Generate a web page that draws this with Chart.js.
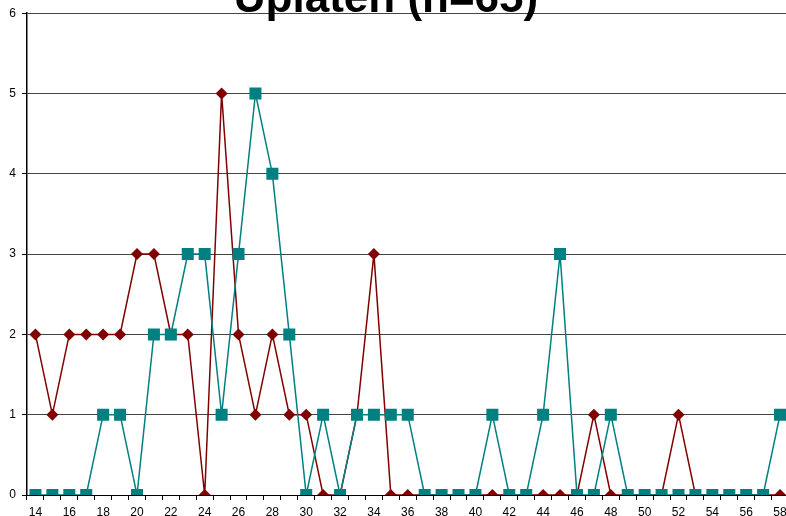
<!DOCTYPE html>
<html>
<head>
<meta charset="utf-8">
<script src="https://cdn.jsdelivr.net/npm/chart.js@4"></script>
<style>
  html, body { margin: 0; padding: 0; background: #fff; overflow: hidden; }
  #wrap { position: absolute; left: 0; top: 0; width: 797px; height: 530px; }
</style>
</head>
<body>
<div id="wrap"><canvas id="chart"></canvas></div>
<script>
const ages = [];
for (let a = 14; a <= 58; a++) ages.push(String(a));

const seriesRed = [2, 1, 2, 2, 2, 2, 3, 3, 2, 2, 0, 5, 2, 1, 2, 1, 1, 0, 0, 1, 3, 0,
                   0, 0, 0, 0, 0, 0, 0, 0, 0, 0, 0, 1, 0, 0, 0, 0, 1, 0, 0, 0, 0, 0, 0];
const seriesTeal = [0, 0, 0, 0, 1, 1, 0, 2, 2, 3, 3, 1, 3, 5, 4, 2, 0, 1, 0, 1, 1, 1,
                    1, 0, 0, 0, 0, 1, 0, 0, 1, 3, 0, 0, 1, 0, 0, 0, 0, 0, 0, 0, 0, 0, 1];
const titleText = 'Uplaten (n=65)';

// title sits partly above the canvas, so draw it by hand
const titlePlugin = {
  id: 'topTitle',
  afterDraw(chart) {
    const ctx = chart.ctx;
    ctx.save();
    ctx.font = 'bold 44px "Liberation Sans", Arial, sans-serif';
    ctx.fillStyle = '#000';
    ctx.textAlign = 'center';
    ctx.textBaseline = 'alphabetic';
    ctx.fillText(titleText, 386, 12);
    ctx.restore();
  }
};

Chart.defaults.font.family = '"Liberation Sans", Arial, sans-serif';
Chart.defaults.font.size = 11;
Chart.defaults.color = '#000';

new Chart(document.getElementById('chart'), {
  type: 'line',
  data: {
    labels: ages,
    datasets: [
      {
        label: 'reeks 1',
        data: seriesRed,
        borderColor: '#800000',
        backgroundColor: '#800000',
        borderWidth: 1.5,
        pointStyle: 'rectRot',
        pointRadius: 6,
        pointBorderWidth: 0,
        tension: 0,
        order: 2
      },
      {
        label: 'reeks 2',
        data: seriesTeal,
        borderColor: '#008080',
        backgroundColor: '#008080',
        borderWidth: 1.5,
        pointStyle: 'rect',
        pointRadius: 8.5,
        pointBorderWidth: 0,
        tension: 0,
        order: 1
      }
    ]
  },
  options: {
    responsive: true,
    maintainAspectRatio: false,
    animation: false,
    layout: { padding: { top: 12, left: 0, right: 0, bottom: 0 } },
    plugins: {
      legend: { display: false },
      title: { display: false },
      tooltip: { enabled: false }
    },
    scales: {
      x: {
        offset: true,
        grid: { display: true, drawOnChartArea: false, offset: true, tickLength: 5, tickColor: '#000' },
        border: { color: '#000', width: 1 },
        ticks: {
          autoSkip: false,
          maxRotation: 0,
          padding: 5,
          font: { size: 12 },
          callback: function (v, i) { return i % 2 === 0 ? this.getLabelForValue(v) : ''; }
        },
        afterFit(scale) { scale.height = 35; }
      },
      y: {
        min: 0,
        max: 6,
        ticks: { stepSize: 1, padding: 6, font: { size: 12 } },
        grid: { color: '#444', lineWidth: 1, tickLength: 5, tickColor: '#000' },
        border: { color: '#000', width: 1.5 },
        afterFit(scale) { scale.width = 27; }
      }
    }
  },
  plugins: [titlePlugin]
});
</script>
</body>
</html>
